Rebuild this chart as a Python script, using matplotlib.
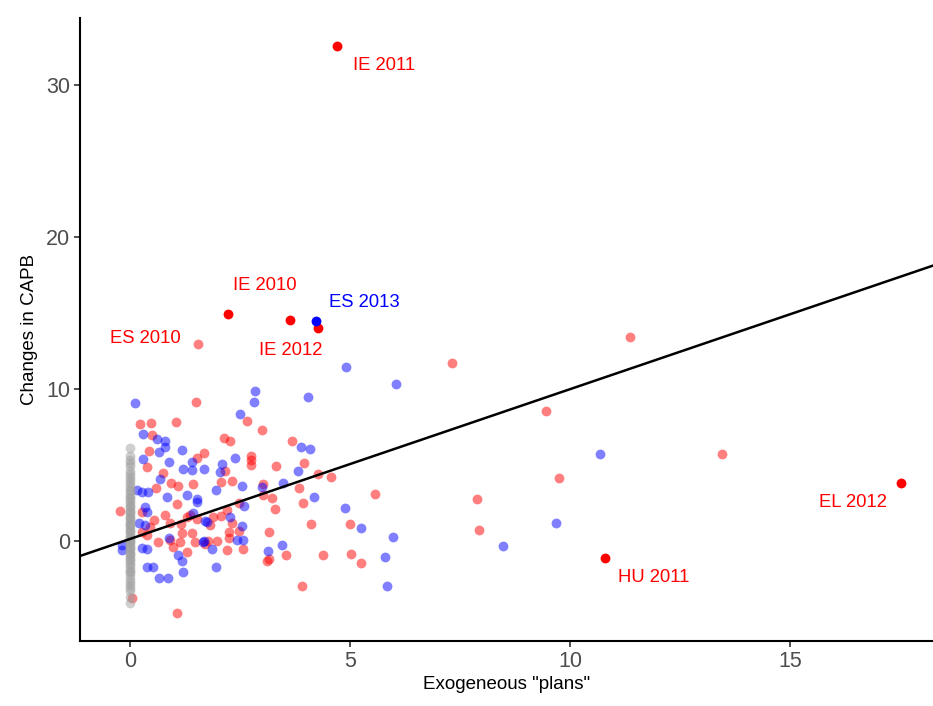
import matplotlib
matplotlib.use("Agg")
import matplotlib.pyplot as plt

plt.rcParams['font.family'] = ['Liberation Sans', 'DejaVu Sans']

# Faded red points (x, y)
red_x = [11.36, 7.32, 1.55, 9.45, 1.50, 13.45, 9.75, 7.89, 7.93, 5.57, 5.00, 5.25, 5.02, 3.91, 1.07, 0.05, -0.23,
         2.66, 3.00, 2.14, 2.27, 3.68, 1.68, 2.75, 2.75, 2.75, 3.95, 2.16, 3.32, 4.27, 4.57, 2.07, 2.32, 3.02, 3.84,
         3.02, 3.23, 3.93, 3.30, 2.48, 2.20, 2.07, 1.89, 1.82, 2.32, 4.11, 2.25, 2.48, 3.16, 2.25, 1.98, 2.57, 2.20,
         1.70, 3.55, 4.39, 3.11, 3.16,
         0.23, 0.48, 1.05, 0.50, 0.43, 1.52, 0.39, 0.75, 0.93, 1.09, 1.43, 0.59,
         1.07, 0.27, 0.80, 0.55, 0.91, 1.16, 1.30, 1.36, 1.52, 0.45, 0.27, 0.39, 0.64, 0.91, 1.18, 1.41, 1.14, 1.48,
         1.77, 0.98, 1.30]
red_y = [13.41, 11.70, 12.95, 8.54, 9.13, 5.70, 4.12, 2.74, 0.69, 3.07, 1.09, -1.48, -0.89, -2.98, -4.78, -3.79, 1.94,
         7.88, 7.28, 6.76, 6.56, 6.56, 5.77, 5.57, 5.31, 4.98, 5.11, 4.58, 4.91, 4.38, 4.19, 3.86, 3.92, 3.72, 3.46,
         3.00, 2.80, 2.47, 2.08, 2.47, 2.01, 1.62, 1.55, 1.02, 1.15, 1.09, 0.56, 0.63, 0.56, 0.16, -0.03, -0.56, -0.63,
         -0.23, -0.96, -0.96, -1.35, -1.22,
         7.68, 7.75, 7.81, 6.95, 5.90, 5.44, 4.85, 4.45, 3.79, 3.59, 3.72, 3.46,
         2.41, 1.88, 1.68, 1.35, 1.15, 1.09, 1.55, 1.68, 1.42, 0.89, 0.56, 0.36, -0.10, 0.03, 0.49, 0.49, -0.10, -0.10,
         -0.03, -0.43, -0.76]

# Faded blue points (x, y)
blue_x = [0.11, 4.91, 6.05, 4.05, 2.84, 2.82, 2.50, 10.68, 9.68, 8.48, 5.98, 5.25, 4.89, 5.80, 5.84, 3.45, 3.14, 1.95,
          4.18, 3.89, 4.09, 2.39, 2.09, 1.68, 2.05, 3.82, 2.55, 1.95, 3.48, 3.00, 2.59, 2.27, 1.70, 2.55, 2.43, 2.57,
          1.68, 1.86,
          0.30, 0.61, 0.80, 0.80, 0.66, 1.18, 0.30, 0.89, 1.41, 1.20, 1.41, 0.68, 1.30, 0.16, 0.27, 0.41, 0.84, 1.52,
          1.52, 0.34, 0.39, 1.43, 1.75, 0.20, 0.34, 0.89, 1.66, 1.09, 1.18, 1.20, -0.18, -0.18, 0.39, 0.27, 0.39,
          0.52, 0.66, 0.86]
blue_y = [9.06, 11.44, 10.32, 9.46, 9.86, 9.13, 8.34, 5.70, 1.15, -0.36, 0.23, 0.82, 2.14, -1.09, -3.00, -0.30, -0.69,
          -1.75, 2.87, 6.16, 6.03, 5.44, 5.04, 4.71, 4.52, 4.58, 3.59, 3.33, 3.79, 3.53, 2.27, 1.55, 1.29, 0.96, 0.03,
          0.03, -0.03, -0.56,
          7.02, 6.69, 6.56, 6.16, 5.83, 5.97, 5.37, 5.17, 5.17, 4.71, 4.65, 4.05, 3.00, 3.33, 3.20, 3.20, 2.87, 2.74,
          2.54, 2.21, 1.88, 1.81, 1.22, 1.15, 1.02, 0.16, -0.10, -0.96, -1.35, -2.08, -0.63, -0.30, -0.56, -0.49,
          -1.75, -1.75, -2.47, -2.47]

# Grey points at zero "plans"
grey_y = [6.1, 5.6, 5.3, 5.1, 4.9, 4.6, 4.4, 4.2, 4.0, 3.8, 3.6, 3.4, 3.3, 3.1, 2.9, 2.8, 2.6, 2.5, 2.3, 2.2,
          2.0, 1.9, 1.8, 1.6, 1.5, 1.4, 1.2, 1.1, 1.0, 0.9, 0.7, 0.6, 0.5, 0.3, 0.2, 0.1, 0.0, -0.1, -0.2, -0.4,
          -0.5, -0.6, -0.8, -0.9, -1.0, -1.2, -1.3, -1.5, -1.6, -1.8, -2.0, -2.1, -2.3, -2.5, -2.7, -2.9, -3.1,
          -3.3, -3.7, -4.1]
grey_x = [0.0] * len(grey_y)

# Highlighted points
hl_red_x = [4.70, 2.23, 3.64, 4.27, 10.80, 17.52]
hl_red_y = [32.57, 14.93, 14.54, 14.01, -1.12, 3.82]
hl_blue_x = [4.23]
hl_blue_y = [14.47]

# Labels
label_text = ["IE 2011", "IE 2010", "ES 2013", "ES 2010", "IE 2012", "HU 2011", "EL 2012"]
label_x = [5.77, 3.07, 5.32, 0.34, 3.66, 11.89, 16.43]
label_y = [31.34, 16.84, 15.72, 13.35, 12.56, -2.41, 2.54]
label_color = ["#FF0000", "#FF0000", "#0000FF", "#FF0000", "#FF0000", "#FF0000", "#FF0000"]

# Regression line
intercept = 0.11
slope = 0.987

fig = plt.figure(figsize=(9.33, 7.06), dpi=100)
ax = fig.add_axes([0.0857, 0.092, 0.9143, 0.8825])

ms = 50
ax.scatter(red_x, red_y, s=ms, color="#FF0000", alpha=0.5, linewidths=0, zorder=2)
ax.scatter(blue_x, blue_y, s=ms, color="#0000FF", alpha=0.5, linewidths=0, zorder=2)
ax.scatter(grey_x, grey_y, s=ms, color="#a0a0a0", alpha=0.5, linewidths=0, zorder=3)
ax.scatter(hl_red_x, hl_red_y, s=ms, color="#FF0000", linewidths=0, zorder=4)
ax.scatter(hl_blue_x, hl_blue_y, s=ms, color="#0000FF", linewidths=0, zorder=4)

ax.axline((0, intercept), slope=slope, color="black", lw=1.8, zorder=5)

for t, x, y, c in zip(label_text, label_x, label_y, label_color):
    ax.text(x, y, t, color=c, fontsize=13.3, ha="center", va="center", zorder=6)

ax.set_xlim(-1.14, 18.25)
ax.set_ylim(-6.62, 34.44)
ax.set_xticks([0, 5, 10, 15])
ax.set_yticks([0, 10, 20, 30])

for side in ["top", "right"]:
    ax.spines[side].set_visible(False)
for side in ["left", "bottom"]:
    ax.spines[side].set_linewidth(1.5)
    ax.spines[side].set_color("black")
ax.tick_params(axis="both", colors="#333333", labelcolor="#4D4D4D", labelsize=15.5, length=4, width=1.2, pad=3)

ax.set_xlabel('Exogeneous "plans"', fontsize=13.5, color="black", labelpad=3)
ax.set_ylabel("Changes in CAPB", fontsize=13.5, color="black", labelpad=6)

fig.savefig("out.png", dpi=100)
